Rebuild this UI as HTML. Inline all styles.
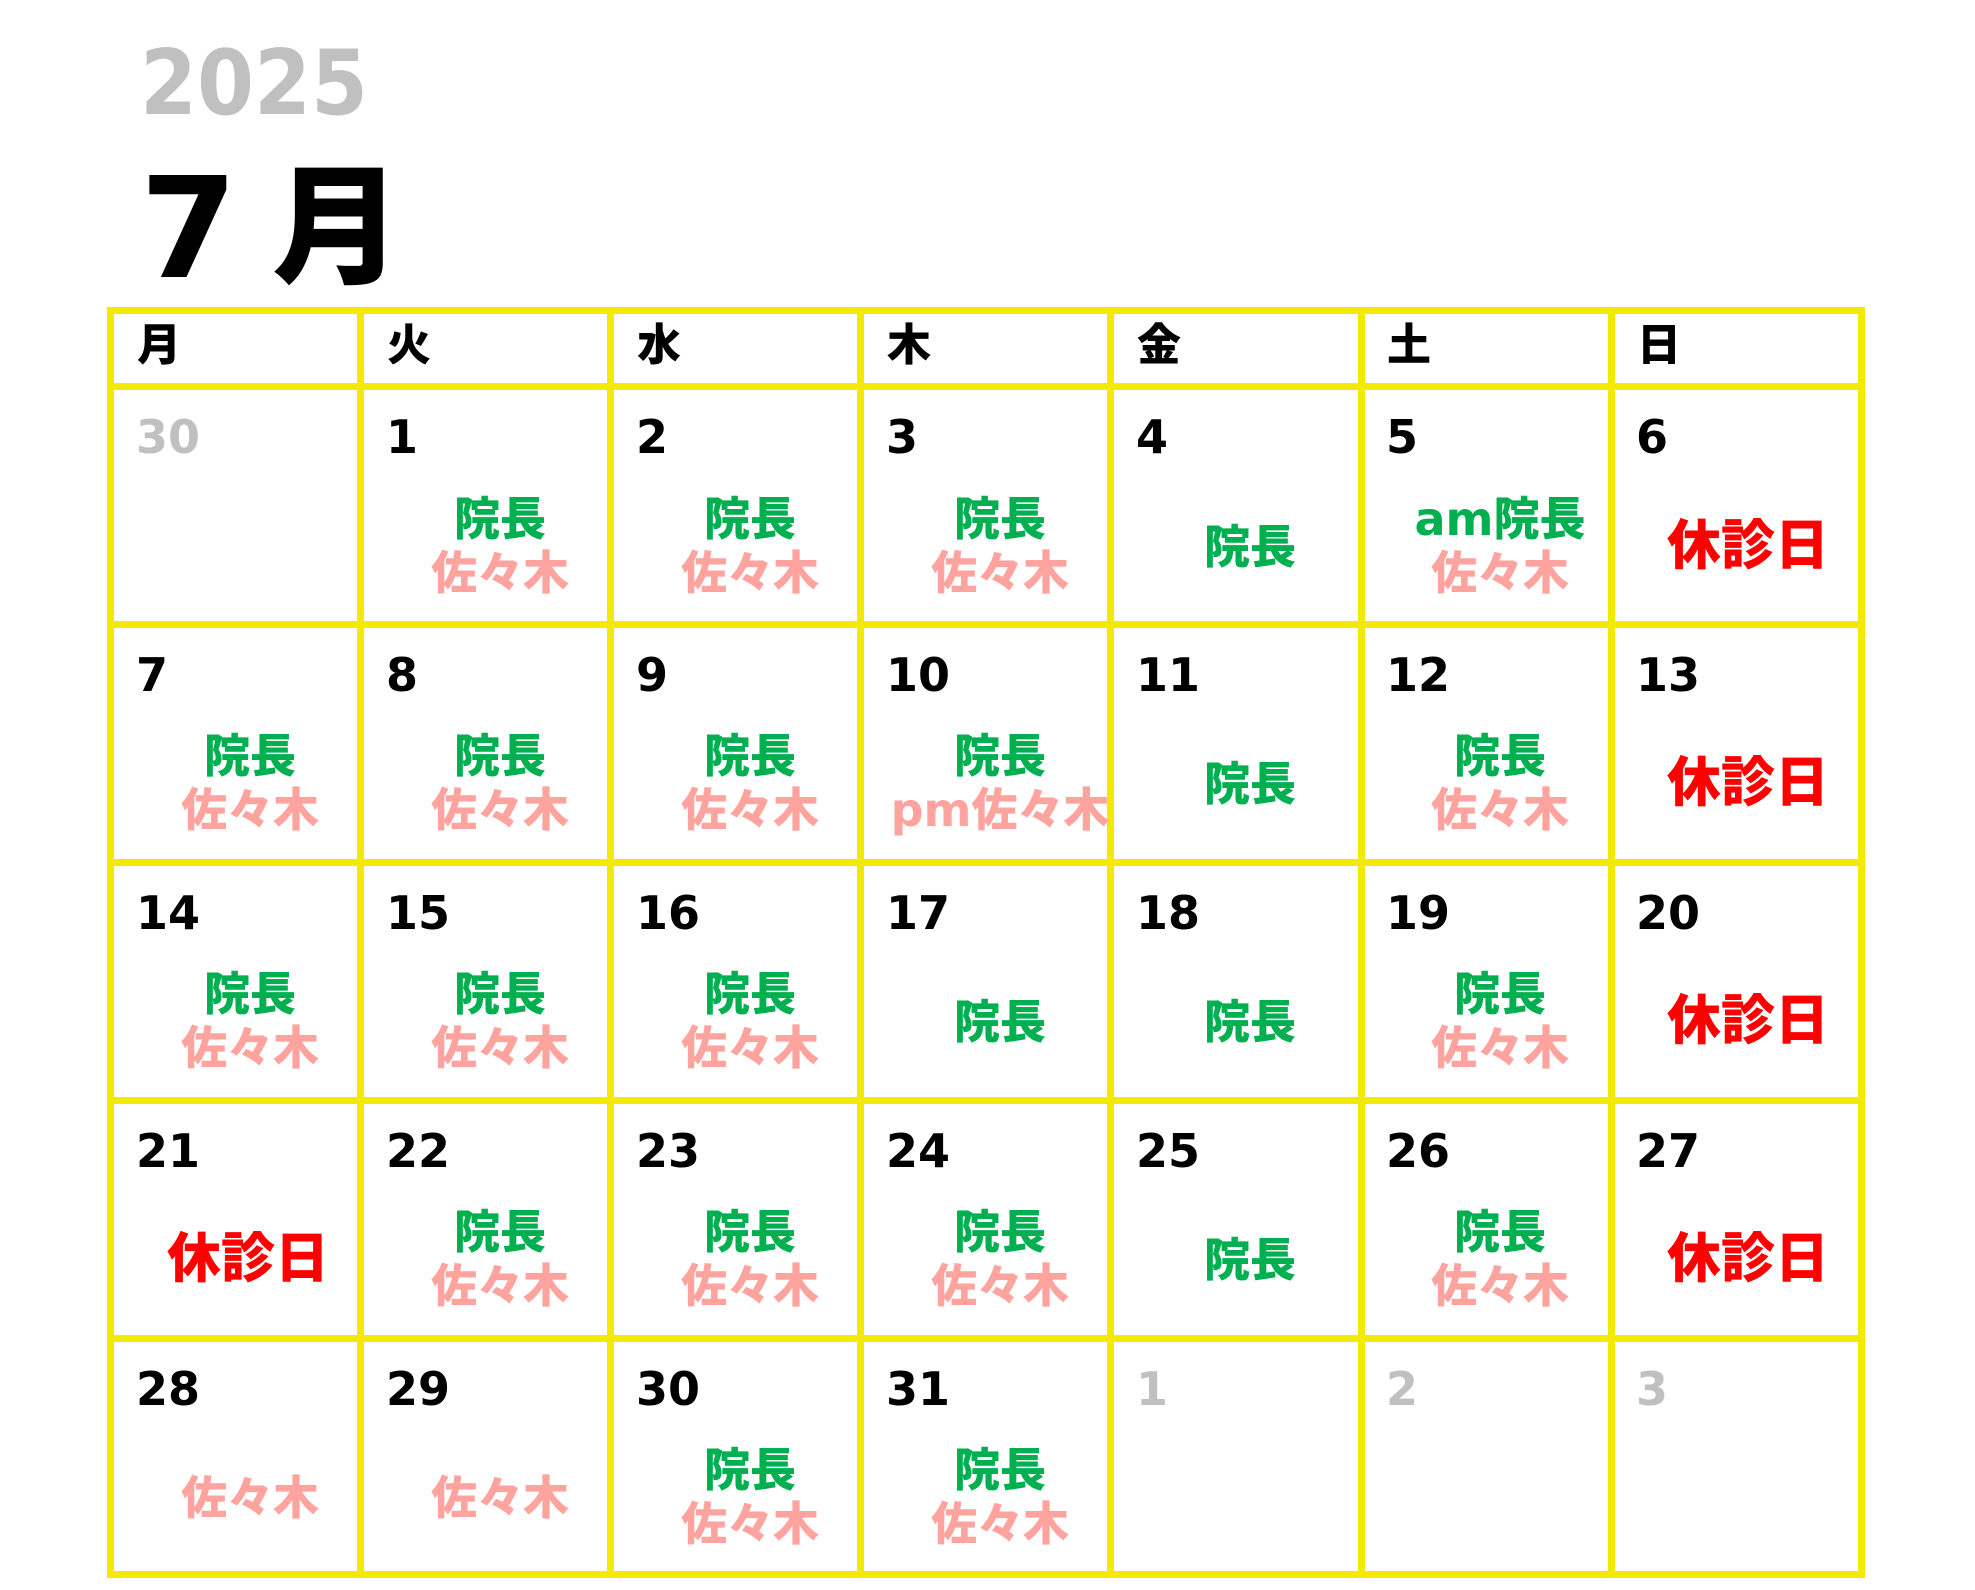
<!DOCTYPE html>
<html><head><meta charset="utf-8"><style>
body{margin:0;width:1975px;height:1590px;background:#fff;position:relative;overflow:hidden;font-family:"DejaVu Sans","Noto Sans CJK JP",sans-serif;font-weight:bold}
div{position:absolute}
.v{width:7px;top:307px;height:1271px;background:#f2ea00}
.h{height:7px;left:107px;width:1758px;background:#f2ea00}
.wd{font-family:"Noto Sans CJK JP",sans-serif;font-size:44px;line-height:1;top:319px;color:#000;font-weight:900}
.n{font-size:46px;line-height:1;color:#000}
.g{color:#c0c0c0}
.t{width:250px;text-align:center;font-family:"DejaVu Sans","Noto Sans CJK JP",sans-serif;font-size:46px;line-height:1;white-space:nowrap;font-weight:900;margin-top:4px}
.gr{color:#00b050}.pk{color:#ffa39e}.rd{color:#ff0000;font-size:54px;margin-top:3px;margin-left:2px}
</style></head><body>
<div style="left:140px;top:39px;font-size:90px;line-height:1;color:#c0c0c0;transform:scaleX(0.91);transform-origin:left top">2025</div>
<div style="left:140px;top:160px;font-size:140px;line-height:1;color:#000">7</div>
<div style="left:272px;top:152px;font-size:130px;line-height:1;color:#000;font-family:'Noto Sans CJK JP',sans-serif;font-weight:900">月</div>

<div class="h" style="top:307px"></div><div class="h" style="top:383px"></div>
<div class="h" style="top:621px"></div><div class="h" style="top:859px"></div>
<div class="h" style="top:1097px"></div><div class="h" style="top:1335px"></div>
<div class="h" style="top:1571px"></div>
<div class="v" style="left:107px"></div><div class="v" style="left:357px"></div>
<div class="v" style="left:607px"></div><div class="v" style="left:857px"></div>
<div class="v" style="left:1107px"></div><div class="v" style="left:1358px"></div>
<div class="v" style="left:1608px"></div><div class="v" style="left:1858px"></div>

<div class="wd" style="left:137px">月</div><div class="wd" style="left:387px">火</div>
<div class="wd" style="left:637px">水</div><div class="wd" style="left:887px">木</div>
<div class="wd" style="left:1137px">金</div><div class="wd" style="left:1387px">土</div>
<div class="wd" style="left:1637px">日</div>

<div class="n g" style="left:136px;top:414px">30</div>
<div class="n" style="left:386px;top:414px">1</div>
<div class="n" style="left:636px;top:414px">2</div>
<div class="n" style="left:886px;top:414px">3</div>
<div class="n" style="left:1136px;top:414px">4</div>
<div class="n" style="left:1386px;top:414px">5</div>
<div class="n" style="left:1636px;top:414px">6</div>
<div class="t gr" style="left:375px;top:492px">院長</div><div class="t pk" style="left:375px;top:546px">佐々木</div>
<div class="t gr" style="left:625px;top:492px">院長</div><div class="t pk" style="left:625px;top:546px">佐々木</div>
<div class="t gr" style="left:875px;top:492px">院長</div><div class="t pk" style="left:875px;top:546px">佐々木</div>
<div class="t gr" style="left:1125px;top:520px">院長</div>
<div class="t gr" style="left:1375px;top:492px">am院長</div><div class="t pk" style="left:1375px;top:546px">佐々木</div>
<div class="t rd" style="left:1621px;top:516px">休診日</div>

<div class="n" style="left:136px;top:652px">7</div>
<div class="n" style="left:386px;top:652px">8</div>
<div class="n" style="left:636px;top:652px">9</div>
<div class="n" style="left:886px;top:652px">10</div>
<div class="n" style="left:1136px;top:652px">11</div>
<div class="n" style="left:1386px;top:652px">12</div>
<div class="n" style="left:1636px;top:652px">13</div>
<div class="t gr" style="left:125px;top:729px">院長</div><div class="t pk" style="left:125px;top:783px">佐々木</div>
<div class="t gr" style="left:375px;top:729px">院長</div><div class="t pk" style="left:375px;top:783px">佐々木</div>
<div class="t gr" style="left:625px;top:729px">院長</div><div class="t pk" style="left:625px;top:783px">佐々木</div>
<div class="t gr" style="left:875px;top:729px">院長</div><div class="t pk" style="left:875px;top:783px">pm佐々木</div>
<div class="t gr" style="left:1125px;top:757px">院長</div>
<div class="t gr" style="left:1375px;top:729px">院長</div><div class="t pk" style="left:1375px;top:783px">佐々木</div>
<div class="t rd" style="left:1621px;top:753px">休診日</div>

<div class="n" style="left:136px;top:890px">14</div>
<div class="n" style="left:386px;top:890px">15</div>
<div class="n" style="left:636px;top:890px">16</div>
<div class="n" style="left:886px;top:890px">17</div>
<div class="n" style="left:1136px;top:890px">18</div>
<div class="n" style="left:1386px;top:890px">19</div>
<div class="n" style="left:1636px;top:890px">20</div>
<div class="t gr" style="left:125px;top:967px">院長</div><div class="t pk" style="left:125px;top:1021px">佐々木</div>
<div class="t gr" style="left:375px;top:967px">院長</div><div class="t pk" style="left:375px;top:1021px">佐々木</div>
<div class="t gr" style="left:625px;top:967px">院長</div><div class="t pk" style="left:625px;top:1021px">佐々木</div>
<div class="t gr" style="left:875px;top:995px">院長</div>
<div class="t gr" style="left:1125px;top:995px">院長</div>
<div class="t gr" style="left:1375px;top:967px">院長</div><div class="t pk" style="left:1375px;top:1021px">佐々木</div>
<div class="t rd" style="left:1621px;top:991px">休診日</div>

<div class="n" style="left:136px;top:1128px">21</div>
<div class="n" style="left:386px;top:1128px">22</div>
<div class="n" style="left:636px;top:1128px">23</div>
<div class="n" style="left:886px;top:1128px">24</div>
<div class="n" style="left:1136px;top:1128px">25</div>
<div class="n" style="left:1386px;top:1128px">26</div>
<div class="n" style="left:1636px;top:1128px">27</div>
<div class="t rd" style="left:121px;top:1229px">休診日</div>
<div class="t gr" style="left:375px;top:1205px">院長</div><div class="t pk" style="left:375px;top:1259px">佐々木</div>
<div class="t gr" style="left:625px;top:1205px">院長</div><div class="t pk" style="left:625px;top:1259px">佐々木</div>
<div class="t gr" style="left:875px;top:1205px">院長</div><div class="t pk" style="left:875px;top:1259px">佐々木</div>
<div class="t gr" style="left:1125px;top:1233px">院長</div>
<div class="t gr" style="left:1375px;top:1205px">院長</div><div class="t pk" style="left:1375px;top:1259px">佐々木</div>
<div class="t rd" style="left:1621px;top:1229px">休診日</div>

<div class="n" style="left:136px;top:1366px">28</div>
<div class="n" style="left:386px;top:1366px">29</div>
<div class="n" style="left:636px;top:1366px">30</div>
<div class="n" style="left:886px;top:1366px">31</div>
<div class="n g" style="left:1136px;top:1366px">1</div>
<div class="n g" style="left:1386px;top:1366px">2</div>
<div class="n g" style="left:1636px;top:1366px">3</div>
<div class="t pk" style="left:125px;top:1471px">佐々木</div>
<div class="t pk" style="left:375px;top:1471px">佐々木</div>
<div class="t gr" style="left:625px;top:1443px">院長</div><div class="t pk" style="left:625px;top:1497px">佐々木</div>
<div class="t gr" style="left:875px;top:1443px">院長</div><div class="t pk" style="left:875px;top:1497px">佐々木</div>
</body></html>
